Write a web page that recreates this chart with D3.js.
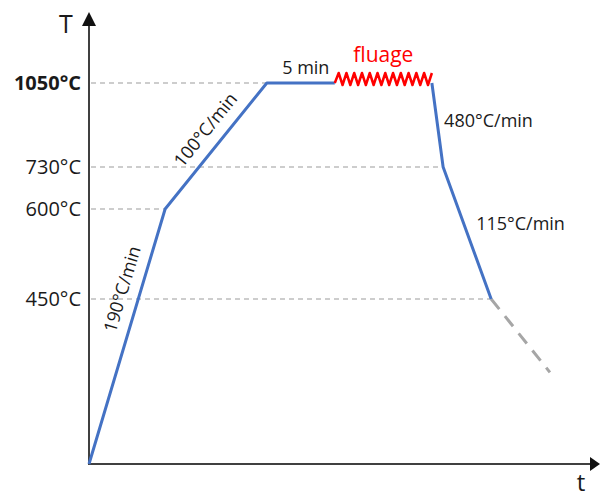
<!DOCTYPE html>
<html>
<head>
<meta charset="utf-8">
<script src="https://cdn.jsdelivr.net/npm/d3@7"></script>
<style>
  html, body { margin: 0; padding: 0; background: #fff; }
  svg { display: block; font-family: "Open Sans", "DejaVu Sans", sans-serif; }
</style>
</head>
<body>
<svg id="chart" width="600" height="498"></svg>
<script>
// ---- data (schematic thermal cycle) ----
const times = [0, 14.9, 34.8, 48.1, 67.1, 69.3, 78.7];        // arbitrary time units
const temps = [0, 600, 1050, 1050, 1050, 730, 450];          // °C
const stages = ["190°C/min", "100°C/min", "5 min", "fluage", "480°C/min", "115°C/min"];
const extTimes = [78.7, 90.2];                               // dashed continuation
const extTemps = [450, 250];
const tempTicks = [450, 600, 730, 1050];
const boldTicks = [1050];
const fluageWaves = 13;

const svg = d3.select("#chart");
const axisColor = "#404040";

// ---- scales ----
const x = d3.scaleLinear().domain([0, 100]).range([89, 600]);
const y = d3.scaleLinear().domain([0, 450, 600, 730, 1050]).range([464, 299, 209, 167, 83]);

// ---- gridlines ----
const gridG = svg.append("g");
tempTicks.forEach(t => {
  const i = temps.indexOf(t);
  gridG.append("line")
    .attr("x1", x(0) + 2).attr("x2", x(times[i]))
    .attr("y1", y(t)).attr("y2", y(t))
    .attr("stroke", "#bdbdbd").attr("stroke-width", 1.3)
    .attr("stroke-dasharray", "5,4");
});

// ---- axes ----
const yAxis = d3.axisLeft(y).tickValues(tempTicks).tickSize(0).tickPadding(8)
  .tickFormat(d => d + "°C");
const yG = svg.append("g").attr("transform", `translate(${x(0)},0)`).call(yAxis);
yG.select(".domain").remove();
yG.selectAll("text")
  .attr("font-size", 20)
  .attr("font-family", "'Open Sans', sans-serif")
  .attr("fill", "#1a1a1a")
  .attr("font-weight", d => boldTicks.includes(d) ? "bold" : "normal");

svg.append("line").attr("x1", x(0)).attr("x2", x(0)).attr("y1", y(0) + 1).attr("y2", 24)
  .attr("stroke", axisColor).attr("stroke-width", 2);
svg.append("path").attr("d", `M${x(0)},12 L${x(0) - 7},26 L${x(0) + 7},26 Z`).attr("fill", "#111");
svg.append("line").attr("x1", x(0)).attr("x2", 592).attr("y1", y(0)).attr("y2", y(0))
  .attr("stroke", axisColor).attr("stroke-width", 2);
svg.append("path").attr("d", `M600,${y(0)} L590,${y(0) - 7} L590,${y(0) + 7} Z`).attr("fill", "#111");

svg.append("text").attr("x", 66).attr("y", 33).attr("text-anchor", "middle")
  .attr("font-size", 25).attr("fill", "#1a1a1a").text("T");
svg.append("text").attr("x", 581).attr("y", 491).attr("text-anchor", "middle")
  .attr("font-size", 24).attr("fill", "#1a1a1a").text("t");

// ---- curve ----
const line = d3.line().x(d => x(d[0])).y(d => y(d[1]));
const fi = stages.indexOf("fluage");
const before = times.slice(0, fi + 1).map((t, i) => [t, temps[i]]);
const after = times.slice(fi + 1).map((t, i) => [t, temps[fi + 1 + i]]);

// dashed continuation
svg.append("path").datum(extTimes.map((t, i) => [t, extTemps[i]]))
  .attr("d", line).attr("fill", "none").attr("stroke", "#a6a6a6")
  .attr("stroke-width", 3).attr("stroke-dasharray", "13,9");

svg.append("path").datum(before).attr("d", line)
  .attr("fill", "none").attr("stroke", "#4472c4").attr("stroke-width", 3).attr("stroke-linejoin", "round");
svg.append("path").datum(after).attr("d", line)
  .attr("fill", "none").attr("stroke", "#4472c4").attr("stroke-width", 3).attr("stroke-linejoin", "round");

// fluage zigzag
const x0 = x(times[fi]), x1 = x(times[fi + 1]), yb = y(temps[fi]);
const steps = 2 * fluageWaves - 1;
const zz = d3.range(steps + 1).map(k => [x0 + (x1 - x0) * k / steps, k % 2 === 0 ? yb + 2 : yb - 10]);
zz[0][1] = yb;
svg.append("path").datum(zz).attr("d", d3.line())
  .attr("fill", "none").attr("stroke", "#ff0000").attr("stroke-width", 2.5).attr("stroke-linejoin", "round");

// ---- labels ----
const txt = (s) => svg.append("text").attr("fill", "#1a1a1a").attr("font-size", 18).text(s);

// 5 min
txt(stages[2]).attr("x", (x(times[2]) + x(times[3])) / 2 + 5).attr("y", y(1050) - 9)
  .attr("text-anchor", "middle");
// fluage
svg.append("text").attr("x", (x0 + x1) / 2).attr("y", y(1050) - 21)
  .attr("text-anchor", "middle").attr("font-size", 21).attr("fill", "#ff0000").text(stages[3]);
// 480°C/min
txt(stages[4]).attr("x", x(times[5]) + 1).attr("y", (y(temps[4]) + y(temps[5])) / 2 + 2);
// 115°C/min
txt(stages[5]).attr("x", (x(times[5]) + x(times[6])) / 2 + 9).attr("y", (y(temps[5]) + y(temps[6])) / 2 - 3);

// rotated labels along heating segments
function alongLabel(i, s, along, normal) {
  const ax = x(times[i]), ay = y(temps[i]), bx = x(times[i + 1]), by = y(temps[i + 1]);
  const ang = Math.atan2(by - ay, bx - ax) * 180 / Math.PI;
  svg.append("g")
    .attr("transform", `translate(${(ax + bx) / 2},${(ay + by) / 2}) rotate(${ang})`)
    .append("text").attr("x", along).attr("y", -normal)
    .attr("text-anchor", "middle").attr("font-size", 18).attr("fill", "#1a1a1a").text(s);
}
alongLabel(0, stages[0], 44, 12);
alongLabel(1, stages[1], 6, 12);
</script>
</body>
</html>
